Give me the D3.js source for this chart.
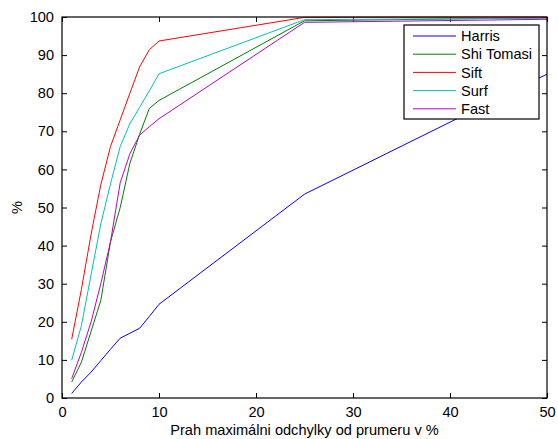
<!DOCTYPE html>
<html>
<head>
<meta charset="utf-8">
<script src="https://cdn.jsdelivr.net/npm/d3@7"></script>
<style>
  body { margin: 0; background: #fff; }
  text { font-family: "Liberation Sans", Arial, sans-serif; fill: #000; }
</style>
</head>
<body>
<div id="plot"></div>
<script>
// Threshold values on the x axis (%)
var prahy = [1, 2, 3, 4, 5, 6, 7, 8, 9, 10, 25, 50];

// Series values
var harris     = [1.2, 4.2, 6.8, 9.8, 12.8, 15.7, 17.0, 18.3, 21.4, 24.6, 53.5, 85.0];
var shiTomasi  = [4.2, 9.4, 17.5, 25.6, 41.0, 50.0, 61.6, 69.2, 76.0, 78.1, 99.0, 99.8];
var sift       = [15.4, 28.5, 43.0, 56.0, 66.0, 73.0, 80.0, 86.9, 91.4, 93.7, 99.9, 100];
var surf       = [9.9, 19.0, 32.4, 45.7, 56.2, 66.0, 72.0, 76.3, 80.6, 85.1, 99.3, 99.7];
var fast       = [5.1, 12.0, 20.0, 30.0, 41.0, 56.5, 64.1, 69.0, 71.2, 73.3, 98.6, 99.4];

var seriesNames = ["Harris", "Shi Tomasi", "Sift", "Surf", "Fast"];
var seriesColors = ["#0000ff", "#008000", "#ff0000", "#00bfbf", "#bf00bf"];
var seriesValues = [harris, shiTomasi, sift, surf, fast];

var xTicks = [0, 10, 20, 30, 40, 50];
var yTicks = [0, 10, 20, 30, 40, 50, 60, 70, 80, 90, 100];

var xLabel = "Prah maximálni odchylky od prumeru v %";
var yLabel = "%";

var chartWidth = 485;
var chartHeight = 381;
const margin = {top: 17, right: 11, bottom: 41, left: 62};
const tickLen = 5;
const fontSize = "14.6px";

var svg = d3.select("#plot")
     .append("svg")
     .attr("width", 558)
     .attr("height", 439)
     .append("g")
     .attr("transform", "translate(" + margin.left + "," + margin.top + ")");

var x = d3.scaleLinear().domain([0, 50]).range([0, chartWidth]);
var y = d3.scaleLinear().domain([0, 100]).range([chartHeight, 0]);

// Axes (ticks point inward, like MATLAB)
function styleAxis(g) {
     g.select(".domain").remove();
     g.selectAll("line").attr("stroke", "#000");
     g.selectAll("text").style("font-size", fontSize);
}

svg.append("g")
     .attr("transform", "translate(0," + chartHeight + ")")
     .call(d3.axisBottom(x).tickValues(xTicks).tickSize(-tickLen).tickPadding(9))
     .call(styleAxis);

svg.append("g")
     .call(d3.axisTop(x).tickValues(xTicks).tickSize(-tickLen).tickFormat(""))
     .call(styleAxis);

svg.append("g")
     .call(d3.axisLeft(y).tickValues(yTicks).tickSize(-tickLen).tickPadding(8))
     .call(styleAxis);

svg.append("g")
     .attr("transform", "translate(" + chartWidth + ",0)")
     .call(d3.axisRight(y).tickValues(yTicks).tickSize(-tickLen).tickFormat(""))
     .call(styleAxis);

// Lines
var line = d3.line()
     .x(function(d) { return x(d[0]); })
     .y(function(d) { return y(d[1]); });

seriesValues.forEach(function(vals, i) {
     svg.append("path")
          .datum(prahy.map(function(p, j) { return [p, vals[j]]; }))
          .attr("fill", "none")
          .attr("stroke", seriesColors[i])
          .attr("stroke-width", 1)
          .attr("d", line);
});

// Frame
svg.append("rect")
     .attr("width", chartWidth)
     .attr("height", chartHeight)
     .attr("fill", "none")
     .attr("stroke", "#000")
     .attr("stroke-width", 1.2);

// Axis labels
svg.append("text")
     .attr("x", chartWidth / 2)
     .attr("y", chartHeight + 37)
     .attr("text-anchor", "middle")
     .style("font-size", fontSize)
     .text(xLabel);

svg.append("text")
     .attr("transform", "translate(-40," + (chartHeight / 2) + ") rotate(-90)")
     .attr("text-anchor", "middle")
     .style("font-size", fontSize)
     .text(yLabel);

// Legend
var legend = svg.append("g")
     .attr("transform", "translate(" + (404 - margin.left) + "," + (25 - margin.top) + ")");

legend.append("rect")
     .attr("width", 135)
     .attr("height", 94)
     .attr("fill", "#fff")
     .attr("stroke", "#000")
     .attr("stroke-width", 1.2);

seriesNames.forEach(function(name, i) {
     var ly = 11 + i * 18.2;
     legend.append("line")
          .attr("x1", 9).attr("x2", 52)
          .attr("y1", ly).attr("y2", ly)
          .attr("stroke", seriesColors[i]);
     legend.append("text")
          .attr("x", 57)
          .attr("y", ly)
          .attr("dy", "0.35em")
          .style("font-size", fontSize)
          .text(name);
});
</script>
</body>
</html>
